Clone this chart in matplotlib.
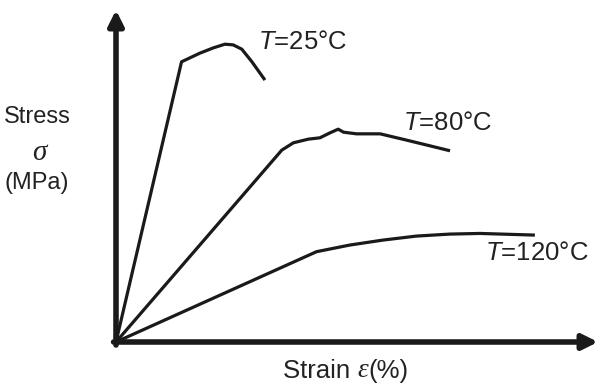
import matplotlib
matplotlib.use("Agg")
import matplotlib.pyplot as plt

plt.rcParams['font.family'] = ['Liberation Sans', 'DejaVu Sans']
plt.rcParams['mathtext.fontset'] = 'custom'
plt.rcParams['mathtext.it'] = 'Liberation Sans:italic'
plt.rcParams['mathtext.rm'] = 'Liberation Sans'

# Strain (%) and stress (MPa), schematic curves
strain_25 = [0, 1.36, 1.74, 2.02, 2.26, 2.43, 2.61, 2.82, 3.09]
stress_25 = [0, 84.4, 87.0, 88.6, 89.7, 89.5, 88.2, 84.4, 78.9]

strain_80 = [0, 3.44, 3.68, 3.99, 4.23, 4.44, 4.61, 4.72, 4.99, 5.48, 6.03, 6.51, 6.93]
stress_80 = [0, 57.8, 60.0, 61.1, 61.5, 63.0, 64.1, 63.2, 62.7, 62.7, 60.8, 59.1, 57.6]

strain_120 = [0, 4.16, 4.85, 5.54, 6.23, 6.92, 7.55, 8.69]
stress_120 = [0, 27.2, 29.2, 30.7, 31.9, 32.5, 32.7, 32.2]

labels = ["=25°C", "=80°C", "=120°C"]

W, H = 599, 390
fig = plt.figure(figsize=(W / 100, H / 100), dpi=100)
x0, y0, x1, y1 = 116, 342, 598, 10
ax = fig.add_axes([x0 / W, (H - y0) / H, (x1 - x0) / W, (y0 - y1) / H])
ax.set_xlim(0, 10)
ax.set_ylim(0, 100)
ax.axis('off')

lw = 2.3
for sx, sy in [(strain_25, stress_25), (strain_80, stress_80), (strain_120, stress_120)]:
    ax.plot(sx, sy, color='#1a1a1a', lw=lw, solid_joinstyle='round', solid_capstyle='butt',
            clip_on=False)

# axes arrows
arrow_kw = dict(arrowstyle='-|>,head_length=0.9,head_width=0.45', color='#1a1a1a', lw=4.0,
                shrinkA=0, shrinkB=0)
ax.annotate('', xy=(1.0, 0), xytext=(-0.005, 0), xycoords='axes fraction',
            arrowprops=arrow_kw, annotation_clip=False)
ax.annotate('', xy=(0, 1.0), xytext=(0, -0.009), xycoords='axes fraction',
            arrowprops=arrow_kw, annotation_clip=False)

fs = 18.5
tc = '#222222'
ax.text(2.95, 90.4, '$T$' + labels[0], fontsize=fs, color=tc, va='center', ha='left')
ax.text(5.95, 66.0, '$T$' + labels[1], fontsize=fs, color=tc, va='center', ha='left')
ax.text(7.66, 26.8, '$T$' + labels[2], fontsize=fs, color=tc, va='center', ha='left')

# y label
fsy = 17
fig.text(37 / W, 1 - 117 / H, 'Stress', fontsize=fsy, color=tc, ha='center', va='center')
fig.text(39 / W, 1 - 153 / H, 'σ', fontsize=21, color=tc, ha='center', va='center',
         family='Liberation Serif', style='italic')
fig.text(37 / W, 1 - 183 / H, '(MPa)', fontsize=fsy, color=tc, ha='center', va='center')

# x label
t1 = fig.text(283 / W, 1 - 371 / H, 'Strain ', fontsize=fs, color=tc, ha='left', va='center')
t2 = ax.annotate('ε', xy=(1, 0), xycoords=t1, fontsize=fs + 1, color=tc, ha='left', va='bottom',
                 family='Liberation Serif', style='italic', annotation_clip=False)
t3 = ax.annotate('(%)', xy=(1, 0), xycoords=t2, fontsize=fs, color=tc, ha='left', va='bottom',
                 annotation_clip=False)

fig.savefig('out.png', dpi=100, facecolor='white')
